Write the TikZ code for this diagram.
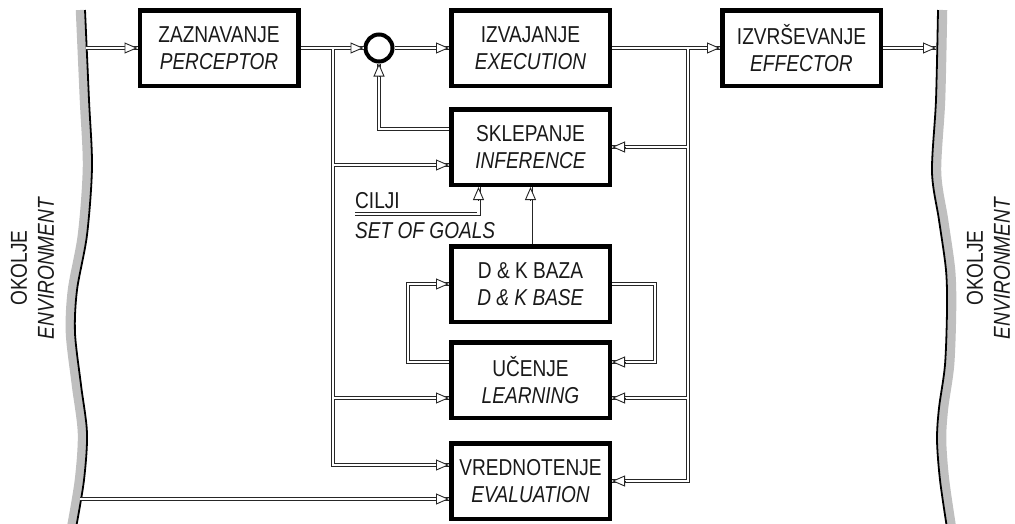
\documentclass[tikz,border=0pt]{standalone}
\usepackage{fontspec}
\setmainfont{Liberation Sans}[FakeStretch=0.83]
\usepackage{tikz}
\usetikzlibrary{arrows.meta}
\colorlet{ink}{black!85}
\colorlet{wallgray}{black!25}
\tikzstyle{blk}=[draw,line width=4.5pt,minimum width=158.5pt,minimum height=75.5pt,inner sep=0pt,align=center]
\tikzstyle{pipe}=[draw=ink,line width=.9pt,double=white,double distance=2.2pt]
\tikzstyle{hd}=[draw=ink,line width=.9pt,-{Triangle[length=13pt 0 0,width=11pt 0 0,fill=white]}]
\tikzstyle{wall}=[line width=1.8pt]
\tikzstyle{shade}=[wallgray,line width=8.5pt]
\newcommand\tipin[2]{\draw[hd] (#1) ++(#2) -- (#1);}

\begin{document}
\begin{tikzpicture}[x=1pt,y=-1pt,font=\fontsize{23}{27}\selectfont,text=black!90]
	\useasboundingbox (0,0) rectangle (1015,523);
	% walls
	\draw[shade,xshift=-5pt] plot[smooth] coordinates {(85,10) (89,100) (92,167) (87,235) (77,290) (75,333) (81,385) (87,433) (84,480) (76,528)};
	\draw[wall] plot[smooth] coordinates {(85,10) (89,100) (92,167) (87,235) (77,290) (75,333) (81,385) (87,433) (84,480) (76,528)};
	\draw[shade,xshift=5pt] plot[smooth] coordinates {(938,10) (936,100) (932,172) (939,220) (946,270) (947,310) (945,365) (939,408) (937,440) (940,480) (947,528)};
	\draw[wall] plot[smooth] coordinates {(938,10) (936,100) (932,172) (939,220) (946,270) (947,310) (945,365) (939,408) (937,440) (940,480) (947,528)};
	\node[rotate=90,align=center] (envl) at (32.5,268) {OKOLJE\\\textit{ENVIRONMENT}};
	\node[rotate=90,align=center] (envr) at (988.5,268) {OKOLJE\\\textit{ENVIRONMENT}};

	\node[blk] (perc) at (219,48) {ZAZNAVANJE\\\textit{PERCEPTOR}};
	\node[draw,circle,line width=4pt,minimum size=27pt,inner sep=0pt] (sum) at (379,48) {};
	\node[blk] (exec) at (530.5,48) {IZVAJANJE\\\textit{EXECUTION}};
	\node[blk] (effe) at (801.5,48) {IZVRŠEVANJE\\\textit{EFFECTOR}};
	\node[blk] (infer) at (530.5,147) {SKLEPANJE\\\textit{INFERENCE}};
	\node[blk] (base) at (530.5,284) {D \& K BAZA\\\textit{D \& K BASE}};
	\node[blk] (learn) at (530.5,380) {UČENJE\\\textit{LEARNING}};
	\node[blk] (evalu) at (530.5,481) {VREDNOTENJE\\\textit{EVALUATION}};
	\node[anchor=base west,inner sep=0pt] (cilji) at (355,208) {CILJI};
	\node[anchor=base west,inner sep=0pt] (goals) at (355,238) {\textit{SET OF GOALS}};

	\coordinate (lin) at (86,48);
	\coordinate (rout) at (936,48);
	\coordinate (lout) at (80,499);
	\coordinate (ltrunk) at (333,48);
	\coordinate (rtrunk) at (688,48);
	\coordinate (goal) at (355,214);
	\coordinate (bl) at (408,284);
	\coordinate (br) at (655,284);
	\coordinate (inl) at ([yshift=-18pt]infer.west);
	\coordinate (inf) at ([yshift=18pt]infer.west);
	\coordinate (lnl) at ([yshift=-18pt]learn.west);
	\coordinate (lnf) at ([yshift=18pt]learn.west);
	\coordinate (lnr) at ([yshift=-18pt]learn.east);
	\coordinate (lnb) at ([yshift=18pt]learn.east);
	\coordinate (evl) at ([yshift=16pt]evalu.west);
	\coordinate (evo) at ([yshift=-18pt]evalu.west);
	\coordinate (gin) at ([xshift=-52pt]infer.south);

	\draw[pipe] (lin) -- (perc.west) (perc.east) -- (sum.west) (sum.east) -- (exec.west)
		(exec.east) -- (effe.west) (effe.east) -- (rout)
		(inl) -| (ltrunk) (lnl) -| (ltrunk) (evl) -| (ltrunk)
		(infer.east) -| (rtrunk) (lnr) -| (rtrunk) (evalu.east) -| (rtrunk)
		(inf) -| (sum.south) (goal) -| (gin) (base.north) -- (infer.south)
		(lnf) -| (bl) -- (base.west) (base.east) -- (br) |- (lnb)
		(lout) -- (evo);

	\tipin{perc.west}{-13,0}
	\tipin{sum.west}{-13,0}
	\tipin{exec.west}{-13,0}
	\tipin{effe.west}{-13,0}
	\tipin{rout}{-13,0}
	\tipin{sum.south}{0,13}
	\tipin{inl}{-13,0}
	\tipin{infer.east}{13,0}
	\tipin{gin}{0,13}
	\tipin{infer.south}{0,13}
	\tipin{base.west}{-13,0}
	\tipin{lnb}{13,0}
	\tipin{lnl}{-13,0}
	\tipin{lnr}{13,0}
	\tipin{evl}{-13,0}
	\tipin{evo}{-13,0}
	\tipin{evalu.east}{13,0}
\end{tikzpicture}
\end{document}
